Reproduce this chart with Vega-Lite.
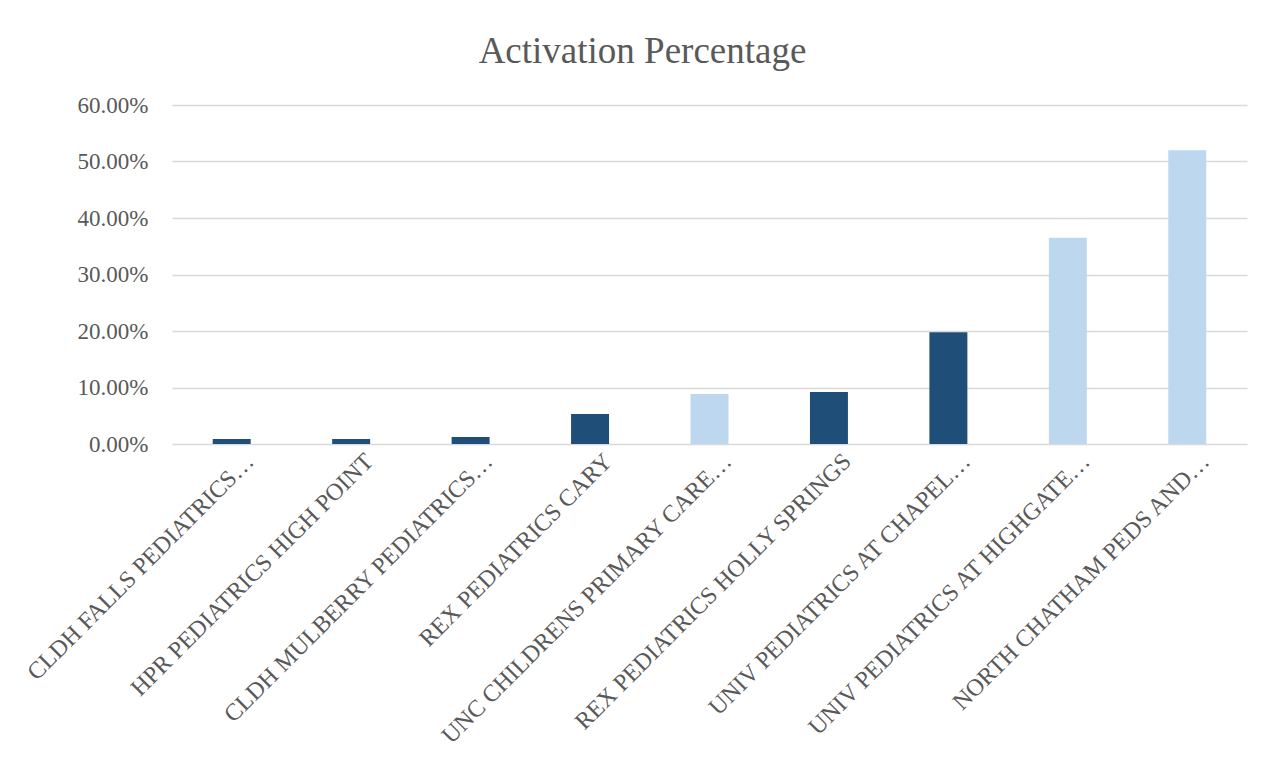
{
  "$schema": "https://vega.github.io/schema/vega-lite/v6.json",
  "autosize": {"type": "none"},
  "padding": {"left": 172, "top": 105, "right": 29, "bottom": 320},
  "width": 1075,
  "height": 339,
  "background": "white",
  "title": {
    "text": "Activation Percentage",
    "font": "Liberation Serif",
    "fontSize": 37,
    "fontWeight": "normal",
    "color": "#595959",
    "anchor": "middle",
    "frame": "group",
    "dx": -67,
    "offset": 23
  },
  "data": {
    "values": [
      {"clinic": "CLDH FALLS PEDIATRICS…", "pct": 0.009, "group": "dark"},
      {"clinic": "HPR PEDIATRICS HIGH POINT", "pct": 0.009, "group": "dark"},
      {"clinic": "CLDH MULBERRY PEDIATRICS…", "pct": 0.0125, "group": "dark"},
      {"clinic": "REX PEDIATRICS CARY", "pct": 0.053, "group": "dark"},
      {"clinic": "UNC CHILDRENS PRIMARY CARE…", "pct": 0.0885, "group": "light"},
      {"clinic": "REX PEDIATRICS HOLLY SPRINGS", "pct": 0.092, "group": "dark"},
      {"clinic": "UNIV PEDIATRICS AT CHAPEL…", "pct": 0.198, "group": "dark"},
      {"clinic": "UNIV PEDIATRICS AT HIGHGATE…", "pct": 0.365, "group": "light"},
      {"clinic": "NORTH CHATHAM PEDS AND…", "pct": 0.52, "group": "light"}
    ]
  },
  "mark": {"type": "bar"},
  "encoding": {
    "x": {
      "field": "clinic",
      "type": "nominal",
      "sort": null,
      "title": null,
      "scale": {"paddingInner": 0.682, "paddingOuter": 0.341},
      "axis": {
        "labelAngle": -45,
        "labelFont": "Liberation Serif",
        "labelFontSize": 24,
        "labelColor": "#595959",
        "labelLimit": 0,
        "labelPadding": 5,
        "labelOffset": 10,
        "ticks": false,
        "domain": false,
        "grid": false
      }
    },
    "y": {
      "field": "pct",
      "type": "quantitative",
      "title": null,
      "scale": {"domain": [0, 0.6], "nice": false},
      "axis": {
        "values": [0, 0.1, 0.2, 0.3, 0.4, 0.5, 0.6],
        "format": ".2%",
        "labelFont": "Liberation Serif",
        "labelFontSize": 23,
        "labelColor": "#595959",
        "labelPadding": 24,
        "ticks": false,
        "domain": false,
        "grid": true,
        "gridColor": "#d9d9d9",
        "gridWidth": 1.5
      }
    },
    "color": {
      "field": "group",
      "type": "nominal",
      "scale": {"domain": ["dark", "light"], "range": ["#1F4E79", "#BDD7EE"]},
      "legend": null
    }
  },
  "config": {"view": {"stroke": null}}
}
